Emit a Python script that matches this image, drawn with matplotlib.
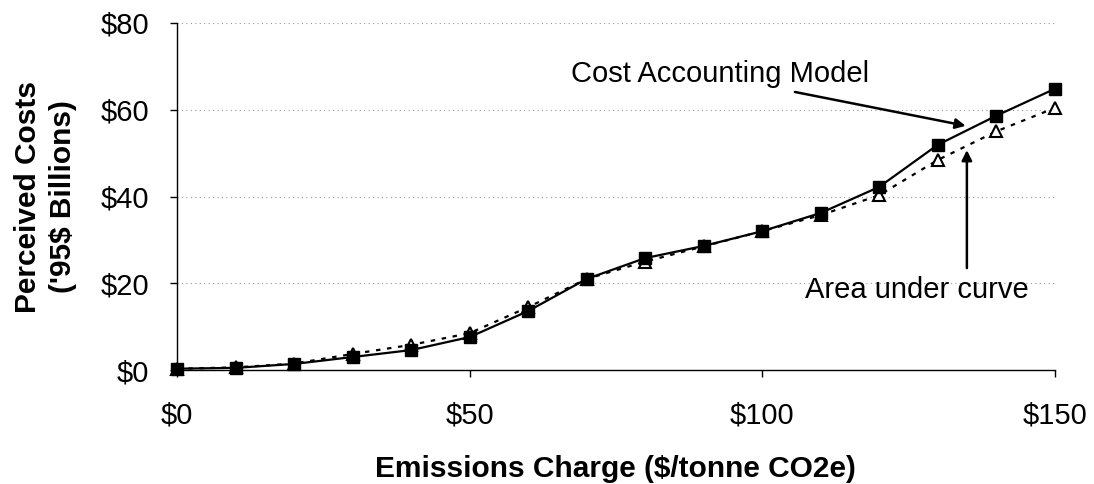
import matplotlib.pyplot as plt

# emissions charge ($/tonne CO2e)
charge = [0, 10, 20, 30, 40, 50, 60, 70, 80, 90, 100, 110, 120, 130, 140, 150]
# perceived costs ('95$ billions)
cost_model = [0.3, 0.5, 1.4, 3.0, 4.6, 7.6, 13.6, 21.0, 25.8, 28.6, 32.0, 36.2, 42.2, 51.9, 58.6, 64.8]
area_curve = [0.3, 0.6, 1.5, 3.7, 5.8, 8.5, 14.5, 21.0, 25.0, 28.5, 32.0, 35.7, 40.3, 48.4, 55.0, 60.4]

plt.rcParams['font.family'] = ['Liberation Sans', 'DejaVu Sans']

fig = plt.figure(figsize=(10.94, 4.84), dpi=100)
ax = fig.add_axes([0.162, 0.2355, 0.802, 0.717])

ax.plot(charge, area_curve, linestyle=(0, (2, 3)), color='black', lw=1.6,
        marker='^', markersize=8, markerfacecolor='white', markeredgecolor='black',
        markeredgewidth=1.5, clip_on=False, zorder=3)
ax.plot(charge, cost_model, linestyle='-', color='black', lw=1.6,
        marker='s', markersize=8, markerfacecolor='black', clip_on=False, zorder=4)

ax.set_xlim(0, 150)
ax.set_ylim(0, 80)
ax.set_xticks([0, 50, 100, 150])
ax.set_xticklabels(['$0', '$50', '$100', '$150'])
ax.set_yticks([0, 20, 40, 60, 80])
ax.set_yticklabels(['$0', '$20', '$40', '$60', '$80'])
ax.tick_params(labelsize=21, length=5, width=1, direction='out')
ax.tick_params(axis='x', pad=18)
ax.tick_params(axis='y', pad=15)

for s in ['top', 'right']:
    ax.spines[s].set_visible(False)
for s in ['left', 'bottom']:
    ax.spines[s].set_linewidth(1)

ax.grid(axis='y', linestyle=(0, (1, 3)), color='#999999', lw=0.8)
ax.set_axisbelow(True)

ax.set_xlabel('Emissions Charge ($/tonne CO2e)', fontsize=21.5, fontweight='bold', labelpad=18)
ax.set_ylabel("Perceived Costs\n('95$ Billions)", fontsize=21.5, fontweight='bold',
              labelpad=17, linespacing=1.35)

# annotation labels
ax.text(92.8, 68.2, 'Cost Accounting Model', fontsize=21, ha='center', va='center')
ax.text(126.4, 18.4, 'Area under curve', fontsize=21, ha='center', va='center')

# annotation arrows
arrow = dict(arrowstyle='-|>', color='black', lw=1.8, shrinkA=0, shrinkB=0, mutation_scale=15)
ax.annotate('', xy=(134.8, 56.3), xytext=(105.6, 64.1), arrowprops=arrow)
ax.annotate('', xy=(135.0, 50.7), xytext=(135.0, 23.5), arrowprops=arrow)

fig.savefig('out.png', dpi=100)
